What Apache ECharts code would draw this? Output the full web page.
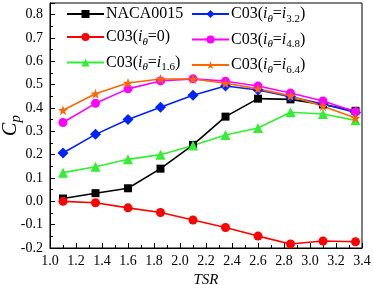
<!DOCTYPE html>
<html>
<head>
<meta charset="utf-8">
<script src="https://cdn.jsdelivr.net/npm/echarts@6/dist/echarts.min.js"></script>
<style>
  html, body { margin: 0; padding: 0; background: #fff; }
  #main { width: 374px; height: 285px; }
</style>
</head>
<body>
<div id="main"></div>
<script>
"use strict";

var tsr = [1.1, 1.35, 1.6, 1.85, 2.1, 2.35, 2.6, 2.85, 3.1, 3.35];
var naca = [0.012, 0.035, 0.056, 0.14, 0.242, 0.363, 0.44, 0.437, 0.415, 0.388];
var c03i0 = [0.0, -0.006, -0.028, -0.048, -0.08, -0.112, -0.149, -0.183, -0.17, -0.173];
var c03i16 = [0.123, 0.148, 0.18, 0.2, 0.239, 0.284, 0.314, 0.382, 0.374, 0.347];
var c03i32 = [0.207, 0.287, 0.351, 0.403, 0.455, 0.494, 0.477, 0.448, 0.417, 0.381];
var c03i48 = [0.338, 0.42, 0.482, 0.516, 0.525, 0.515, 0.494, 0.464, 0.43, 0.384];
var c03i64 = [0.39, 0.461, 0.507, 0.524, 0.524, 0.506, 0.482, 0.452, 0.408, 0.357];

var seriesNames = ["NACA0015", "C03(iθ=0)", "C03(iθ=i1.6)", "C03(iθ=i3.2)", "C03(iθ=i4.8)", "C03(iθ=i6.4)"];
var legendLabels = {
  "NACA0015": "{n|NACA0015}",
  "C03(iθ=0)": "{n|C03(}{it|i}{sub|θ}{n|=0)}",
  "C03(iθ=i1.6)": "{n|C03(}{it|i}{sub|θ}{n|=}{it|i}{sub2|1.6}{n|)}",
  "C03(iθ=i3.2)": "{n|C03(}{it|i}{sub|θ}{n|=}{it|i}{sub2|3.2}{n|)}",
  "C03(iθ=i4.8)": "{n|C03(}{it|i}{sub|θ}{n|=}{it|i}{sub2|4.8}{n|)}",
  "C03(iθ=i6.4)": "{n|C03(}{it|i}{sub|θ}{n|=}{it|i}{sub2|6.4}{n|)}"
};

function pairs(ys) {
  return tsr.map(function (x, i) { return [x, ys[i]]; });
}

var serif = "Liberation Serif";
var legendRich = {
  n: { fontFamily: serif, fontSize: 16, color: "#000" },
  it: { fontFamily: serif, fontSize: 16, fontStyle: "italic", color: "#000" },
  sub: { fontFamily: serif, fontSize: 11, fontStyle: "italic", color: "#000", padding: [10, 0, 0, 0] },
  sub2: { fontFamily: serif, fontSize: 11, color: "#000", padding: [10, 0, 0, 0] }
};

function legendCfg(left, names) {
  return {
    orient: "vertical",
    left: left,
    top: 1,
    itemGap: 7,
    itemWidth: 37,
    itemHeight: 10,
    data: names,
    formatter: function (name) { return legendLabels[name]; },
    textStyle: { rich: legendRich, padding: [0, 0, 0, -3] }
  };
}

function line(name, ys, color, symbol, size) {
  return {
    name: name,
    type: "line",
    data: pairs(ys),
    symbol: symbol,
    symbolSize: size,
    lineStyle: { color: color, width: 1.6 },
    itemStyle: { color: color },
    emphasis: { disabled: true },
    animation: false,
    z: 3
  };
}

var chart = echarts.init(document.getElementById("main"));
var option = {
  backgroundColor: "#fff",
  animation: false,
  grid: {
    left: 50, right: 12, top: 3, bottom: 37,
    outerBoundsMode: "none", containLabel: false,
    show: true, borderColor: "#000", borderWidth: 1
  },
  legend: [
    legendCfg(61, [seriesNames[0], seriesNames[1], seriesNames[2]]),
    legendCfg(186, [seriesNames[3], seriesNames[4], seriesNames[5]])
  ],
  xAxis: {
    type: "value",
    min: 1.0,
    max: 3.4,
    interval: 0.2,
    name: "TSR",
    nameLocation: "middle",
    nameGap: 25,
    nameTextStyle: { fontFamily: serif, fontSize: 15, fontStyle: "italic", color: "#000" },
    axisLine: { onZero: false, lineStyle: { color: "#000", width: 1 } },
    axisTick: { inside: true, length: 5, lineStyle: { color: "#000" } },
    minorTick: { show: true, splitNumber: 2, length: 3, lineStyle: { color: "#000" } },
    splitLine: { show: false },
    axisLabel: {
      fontFamily: serif, fontSize: 14, color: "#000", margin: 6,
      formatter: function (v) { return v.toFixed(1); }
    }
  },
  yAxis: {
    type: "value",
    min: -0.2,
    max: 0.85,
    interval: 0.1,
    name: "{c|C}{p|p}",
    nameLocation: "middle",
    nameGap: 26,
    nameMoveOverlap: false,
    nameTextStyle: {
      rich: {
        c: { fontFamily: serif, fontSize: 20, fontStyle: "italic", color: "#000" },
        p: { fontFamily: serif, fontSize: 15, fontStyle: "italic", color: "#000", padding: [12, 0, 0, 0] }
      }
    },
    axisLine: { show: true, onZero: false, lineStyle: { color: "#000", width: 1 } },
    axisTick: { inside: true, length: 5, lineStyle: { color: "#000" } },
    minorTick: { show: true, splitNumber: 2, length: 3, lineStyle: { color: "#000" } },
    splitLine: { show: false },
    axisLabel: {
      fontFamily: serif, fontSize: 14, color: "#000", margin: 7,
      formatter: function (v) {
        var r = Math.round(v * 10);
        if (Math.abs(v * 10 - r) > 1e-6) return "";
        return v.toFixed(1);
      }
    }
  },
  series: [
    line(seriesNames[0], naca, "#000000", "rect", 8),
    line(seriesNames[1], c03i0, "#ff0000", "circle", 9),
    line(seriesNames[2], c03i16, "#33ee33", "triangle", 10),
    line(seriesNames[3], c03i32, "#0022ff", "diamond", 11),
    line(seriesNames[4], c03i48, "#ff00ff", "circle", 9),
    line(seriesNames[5], c03i64, "#ff6600", "path://M0,-10 L2.35,-3.24 L9.51,-3.09 L3.8,1.24 L5.88,8.09 L0,4 L-5.88,8.09 L-3.8,1.24 L-9.51,-3.09 L-2.35,-3.24 Z", 10)
  ]
};
chart.setOption(option);
</script>
</body>
</html>
